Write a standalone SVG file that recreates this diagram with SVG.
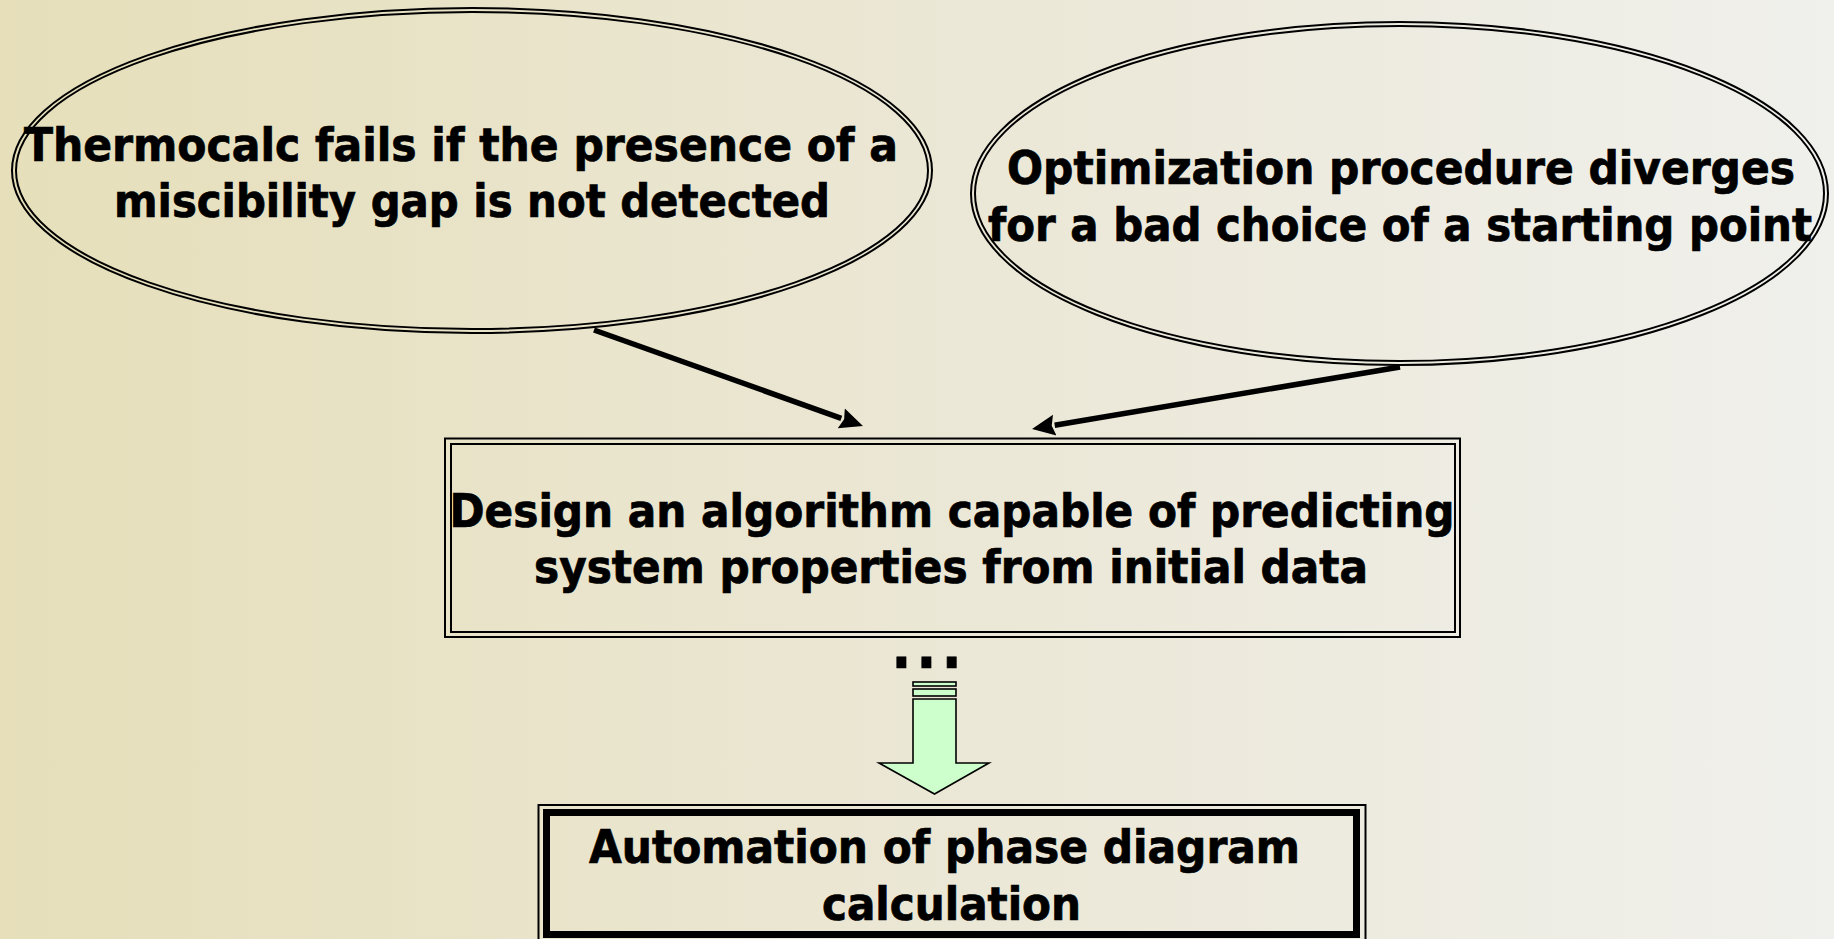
<svg xmlns="http://www.w3.org/2000/svg" width="1834" height="939" viewBox="0 0 1834 939">
  <defs>
    <linearGradient id="bg" x1="0" y1="0" x2="1" y2="0">
      <stop offset="0" stop-color="#E6DFBA"/>
      <stop offset="0.5" stop-color="#EBE7D5"/>
      <stop offset="1" stop-color="#F0F0EC"/>
    </linearGradient>
    <marker id="head" viewBox="0 -12 26 24" refX="0" refY="0" markerWidth="26" markerHeight="24" markerUnits="userSpaceOnUse" orient="auto">
      <path d="M0,-10.5 L23,0 L0,10.5 L3,0 Z" fill="#000"/>
    </marker>
  </defs>
  <style>
    .t { font-family: 'DejaVu Sans Condensed', 'DejaVu Sans', sans-serif; font-weight: bold; font-size: 46px; fill: #000; stroke: #000; stroke-width: 0.7; text-anchor: middle; }
    .thin { fill: none; stroke: #000; stroke-width: 2; }
    .conn { fill: none; stroke: #000; stroke-width: 5.5; }
  </style>
  <rect x="0" y="0" width="1834" height="939" fill="url(#bg)"/>

  <g id="node-thermocalc">
    <ellipse class="thin" cx="472" cy="170.5" rx="460" ry="162.5"/>
    <ellipse class="thin" cx="472" cy="170.5" rx="456" ry="158.5"/>
    <text class="t" x="461" y="161" textLength="874" lengthAdjust="spacingAndGlyphs">Thermocalc fails if the presence of a</text>
    <text class="t" x="472" y="217" textLength="716" lengthAdjust="spacingAndGlyphs">miscibility gap is not detected</text>
  </g>

  <g id="node-optimization">
    <ellipse class="thin" cx="1399.5" cy="193.5" rx="428.5" ry="171.5"/>
    <ellipse class="thin" cx="1399.5" cy="193.5" rx="424.5" ry="167.5"/>
    <text class="t" x="1401" y="184" textLength="788" lengthAdjust="spacingAndGlyphs">Optimization procedure diverges</text>
    <text class="t" x="1400" y="241" textLength="824" lengthAdjust="spacingAndGlyphs">for a bad choice of a starting point</text>
  </g>

  <g id="node-design">
    <rect class="thin" x="445" y="438.5" width="1015" height="198.5"/>
    <rect class="thin" x="451" y="444" width="1004" height="188" stroke-width="2.5"/>
    <text class="t" x="952" y="527" textLength="1005" lengthAdjust="spacingAndGlyphs">Design an algorithm capable of predicting</text>
    <text class="t" x="951" y="583" textLength="834" lengthAdjust="spacingAndGlyphs">system properties from initial data</text>
  </g>

  <g id="node-dots">
    <text class="t" x="926.5" y="668" style="font-size:58px" textLength="70" lengthAdjust="spacing">...</text>
  </g>

  <g id="node-automation">
    <rect class="thin" x="538.5" y="805" width="827" height="140" stroke-width="1.6"/>
    <rect x="546.5" y="812.5" width="810" height="122" fill="none" stroke="#000" stroke-width="7"/>
    <text class="t" x="944.5" y="863" textLength="711" lengthAdjust="spacingAndGlyphs">Automation of phase diagram</text>
    <text class="t" x="951.5" y="920" textLength="259" lengthAdjust="spacingAndGlyphs">calculation</text>
  </g>

  <g id="connectors">
    <line class="conn" x1="594" y1="330" x2="841.3" y2="418.3" marker-end="url(#head)"/>
    <line class="conn" x1="1400" y1="367" x2="1054.7" y2="425.2" marker-end="url(#head)"/>
    <g id="block-arrow" fill="#CCFFCC" stroke="#000" stroke-width="1.6">
      <rect x="913" y="682" width="43" height="4"/>
      <rect x="913" y="689" width="43" height="7"/>
      <polygon points="913,699 956,699 956,763 989,763 934.5,794 879,763 913,763"/>
    </g>
  </g>
</svg>
